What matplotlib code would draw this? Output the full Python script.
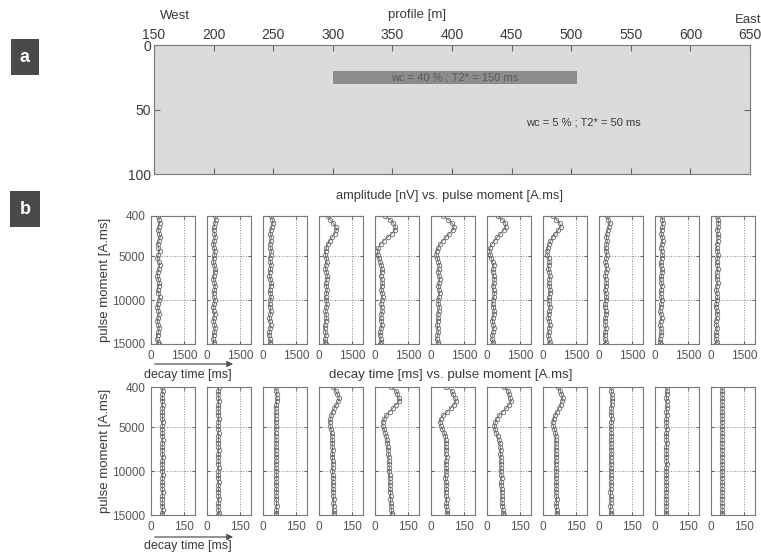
# MRS profile: 2D model (a) and synthetic soundings along the profile (b)

import matplotlib
matplotlib.use('Agg')
import matplotlib.pyplot as plt
from matplotlib.patches import Rectangle, FancyArrowPatch

plt.rcParams['font.family'] = ['Liberation Sans', 'DejaVu Sans']

# MODEL (panel a)
profile_ticks = [150, 200, 250, 300, 350, 400, 450, 500, 550, 600, 650]
depth_ticks = [0, 50, 100]
layer_x = [300, 505]        # profile position of the water-rich layer [m]
layer_depth = [20, 30]      # top / bottom of the layer [m]
layer_label = 'wc = 40 % ; T2* = 150 ms'
host_label = 'wc = 5 % ; T2* = 50 ms'

# SOUNDINGS (panel b)
pulse_moment = [400, 800, 1200, 1600, 2000, 2400, 2800, 3200, 3600, 4000,
                4400, 4800, 5200, 5600, 6000, 6400, 6800, 7200, 7600, 8000,
                8400, 8800, 9200, 9600, 10000, 10400, 10800, 11200, 11600, 12000,
                12400, 12800, 13200, 13600, 14000, 14400, 14800, 15000]

amplitude = [
    [330, 360, 400, 350, 310, 380, 420, 360, 300, 340, 390, 330, 290, 350, 400, 360, 310, 280, 330,
     380, 350, 300, 340, 390, 360, 310, 290, 340, 370, 320, 280, 330, 380, 340, 300, 260, 310, 350],
    [360, 400, 370, 320, 300, 340, 380, 330, 290, 310, 360, 340, 300, 280, 330, 370, 350, 310, 290,
     340, 380, 340, 300, 320, 360, 330, 280, 300, 350, 320, 290, 330, 370, 340, 300, 270, 320, 300],
    [350, 420, 450, 400, 360, 330, 380, 350, 310, 340, 380, 350, 300, 330, 370, 340, 310, 290, 340,
     380, 360, 310, 330, 370, 340, 300, 320, 360, 330, 290, 310, 350, 330, 290, 270, 310, 340, 300],
    [410, 500, 640, 760, 790, 720, 600, 480, 400, 330, 300, 280, 330, 360, 320, 290, 340, 380, 350,
     310, 330, 370, 340, 300, 320, 360, 330, 290, 310, 340, 300, 270, 250, 290, 320, 280, 250, 300],
    [450, 680, 830, 920, 900, 760, 580, 400, 250, 150, 110, 130, 170, 230, 280, 320, 300, 260, 300,
     340, 310, 280, 320, 350, 310, 270, 300, 330, 290, 260, 280, 310, 280, 240, 220, 260, 280, 240],
    [560, 790, 950, 1060, 980, 840, 680, 540, 410, 320, 260, 230, 280, 330, 380, 350, 320, 360, 400,
     370, 330, 360, 400, 360, 320, 340, 380, 350, 310, 330, 300, 270, 300, 330, 290, 260, 300, 320],
    [480, 680, 830, 860, 760, 610, 470, 350, 230, 140, 110, 150, 200, 250, 300, 280, 260, 300, 340,
     310, 270, 300, 340, 310, 280, 250, 290, 330, 300, 260, 240, 280, 310, 270, 240, 220, 260, 280],
    [470, 600, 760, 820, 700, 560, 440, 340, 270, 210, 170, 200, 250, 290, 270, 240, 280, 320, 290,
     260, 290, 330, 300, 270, 250, 290, 320, 290, 260, 240, 280, 310, 280, 250, 230, 270, 300, 260],
    [360, 420, 480, 450, 400, 360, 330, 380, 340, 300, 320, 360, 330, 290, 310, 350, 320, 280, 300,
     340, 310, 270, 300, 340, 310, 280, 260, 300, 330, 290, 260, 290, 320, 280, 250, 270, 300, 260],
    [300, 330, 360, 340, 310, 280, 320, 350, 310, 270, 300, 340, 310, 270, 250, 300, 330, 290, 260,
     290, 320, 280, 250, 280, 310, 290, 250, 230, 270, 300, 260, 230, 260, 290, 250, 220, 240, 260],
    [290, 320, 340, 310, 280, 300, 330, 300, 270, 250, 290, 320, 290, 260, 280, 310, 280, 250, 270,
     300, 270, 240, 260, 290, 270, 240, 220, 260, 290, 250, 220, 240, 270, 240, 210, 230, 250, 220],
]

decay_time = [
    [52, 53, 52, 51, 52, 53, 52, 52, 51, 52, 53, 52, 51, 52, 52, 53, 52, 51, 52,
     52, 53, 52, 51, 52, 52, 53, 52, 52, 51, 52, 53, 52, 51, 52, 52, 53, 52, 51],
    [53, 52, 51, 52, 53, 52, 51, 52, 52, 53, 52, 51, 52, 53, 52, 52, 51, 52, 53,
     52, 51, 52, 52, 53, 52, 51, 52, 53, 52, 52, 51, 52, 53, 52, 51, 52, 53, 52],
    [58, 60, 62, 63, 62, 60, 59, 58, 58, 57, 58, 59, 58, 57, 58, 59, 60, 59, 58,
     59, 60, 59, 58, 59, 60, 61, 60, 59, 60, 61, 60, 59, 60, 61, 62, 61, 60, 61],
    [65, 75, 82, 92, 88, 78, 70, 62, 56, 52, 49, 50, 54, 57, 59, 60, 61, 60, 62,
     61, 60, 62, 63, 62, 61, 63, 64, 63, 62, 64, 65, 64, 66, 65, 66, 67, 66, 68],
    [72, 95, 100, 108, 110, 96, 82, 66, 52, 42, 36, 35, 40, 46, 50, 54, 56, 58, 60,
     61, 63, 62, 64, 65, 64, 66, 67, 68, 67, 69, 70, 71, 70, 72, 73, 74, 75, 77],
    [70, 95, 98, 108, 114, 104, 90, 74, 56, 45, 40, 44, 52, 60, 65, 66, 68, 67, 69,
     66, 72, 68, 66, 69, 70, 67, 65, 68, 70, 69, 66, 68, 71, 70, 69, 72, 73, 74],
    [76, 96, 98, 104, 110, 100, 88, 72, 56, 44, 38, 34, 36, 42, 48, 54, 58, 60, 62,
     61, 63, 62, 64, 63, 62, 64, 66, 65, 64, 66, 67, 68, 67, 69, 70, 72, 74, 77],
    [66, 78, 84, 90, 88, 80, 72, 64, 56, 48, 44, 46, 52, 56, 58, 57, 59, 58, 57,
     59, 60, 58, 57, 59, 60, 59, 58, 60, 61, 60, 59, 61, 62, 61, 60, 62, 63, 64],
    [55, 56, 58, 59, 58, 57, 56, 55, 56, 57, 56, 55, 54, 55, 56, 55, 54, 55, 56,
     55, 54, 53, 54, 55, 54, 53, 54, 55, 54, 53, 52, 53, 54, 53, 52, 53, 54, 53],
    [53, 54, 53, 52, 53, 54, 53, 52, 53, 52, 51, 52, 53, 52, 51, 52, 53, 52, 51,
     52, 51, 52, 53, 52, 51, 52, 51, 50, 51, 52, 51, 50, 51, 52, 51, 50, 51, 52],
    [50, 51, 50, 51, 50, 51, 50, 51, 50, 51, 50, 51, 50, 51, 50, 51, 50, 51, 50,
     51, 50, 51, 50, 51, 50, 51, 50, 51, 50, 51, 50, 51, 50, 51, 50, 51, 50, 51],
]

pm_ticks = [400, 5000, 10000, 15000]
amp_ticks = [0, 1500]
t2_ticks = [0, 150]

# COLOURS
text_col = '#3a3a3a'
tick_col = '#666666'
spine_col = '#7a7a7a'
mark_col = '#6a6a6a'

W, H = 761, 556
fig = plt.figure(figsize=(W / 100, H / 100), dpi=100)


def box(px_left, px_top, px_w, px_h):
    # CONVERT PIXEL BOX (FROM TOP-LEFT) TO FIGURE FRACTION
    return [px_left / W, 1 - (px_top + px_h) / H, px_w / W, px_h / H]


# ---------------- PANEL A ----------------
ax = fig.add_axes(box(154, 45, 596, 129))
ax.set_facecolor('#dbdbdb')
ax.set_xlim(profile_ticks[0], profile_ticks[-1])
ax.set_ylim(depth_ticks[-1], depth_ticks[0])
ax.xaxis.tick_top()
ax.set_xticks(profile_ticks)
ax.set_yticks(depth_ticks)
ax.tick_params(direction='in', length=4, colors=tick_col, labelcolor=text_col,
               labelsize=10, top=True, bottom=True, left=True, right=True, pad=2)
for s in ax.spines.values():
    s.set_color(spine_col)
    s.set_linewidth(0.8)
ax.add_patch(Rectangle((layer_x[0], layer_depth[0]), layer_x[1] - layer_x[0],
                       layer_depth[1] - layer_depth[0], facecolor='#8c8c8c', edgecolor='none'))
ax.text(sum(layer_x) / 2, sum(layer_depth) / 2, layer_label, ha='center', va='center',
        fontsize=8, color='#5a5a5a')
ax.text(510, 60, host_label, ha='center', va='center', fontsize=8, color=text_col)

fig.text(160 / W, 1 - 16 / H, 'West', ha='left', va='center', fontsize=9.5, color=text_col)
fig.text(417 / W, 1 - 15 / H, 'profile [m]', ha='center', va='center', fontsize=9.5, color=text_col)
fig.text(735 / W, 1 - 20 / H, 'East', ha='left', va='center', fontsize=9.5, color=text_col)

# PANEL LETTERS
for letter, ytop in [('a', 43), ('b', 195)]:
    fig.text(25 / W, 1 - (ytop + 14) / H, letter, ha='center', va='center', fontsize=13,
             fontweight='bold', color='white',
             bbox=dict(boxstyle='square,pad=0.5', facecolor='#4a4a4a', edgecolor='none'))

# ---------------- PANEL B ----------------
rows = [(amplitude, 216, [0, 2000], amp_ticks), (decay_time, 387, [0, 200], t2_ticks)]
for values, top_px, xlim, xticks in rows:
    for i, series in enumerate(values):
        a = fig.add_axes(box(151 + 56 * i, top_px, 44, 128))
        a.plot(series, pulse_moment, '-o', color=mark_col, lw=0.6, ms=3.2,
               mfc='none', mec=mark_col, mew=0.6)
        a.set_xlim(xlim)
        a.set_ylim(pulse_moment[-1], pulse_moment[0])
        a.set_xticks(xticks)
        a.set_yticks(pm_ticks)
        a.grid(True, linestyle=':', color='#888888', linewidth=0.7)
        a.tick_params(direction='in', length=2.5, colors=tick_col, labelcolor='#555555',
                      labelsize=8.5, top=True, right=True, pad=4)
        if i > 0:
            a.tick_params(labelleft=False)
        else:
            a.set_ylabel('pulse moment [A.ms]', fontsize=9.5, color=text_col, labelpad=1)
        for s in a.spines.values():
            s.set_color(spine_col)
            s.set_linewidth(0.8)

fig.text(450 / W, 1 - 196 / H, 'amplitude [nV] vs. pulse moment [A.ms]',
         ha='center', va='center', fontsize=9.3, color=text_col)
fig.text(451 / W, 1 - 375 / H, 'decay time [ms] vs. pulse moment [A.ms]',
         ha='center', va='center', fontsize=9.6, color=text_col)

# AXIS ARROWS BELOW EACH ROW
for arrow_y, label_y in [(364, 375), (537, 546)]:
    fig.add_artist(FancyArrowPatch(
        (152 / W, 1 - arrow_y / H), (236 / W, 1 - arrow_y / H),
        transform=fig.transFigure, arrowstyle='-|>', mutation_scale=9,
        color='#555555', lw=0.9))
    fig.text(188 / W, 1 - label_y / H, 'decay time [ms]', ha='center', va='center',
             fontsize=9, color=text_col)

fig.savefig('out.png', dpi=100)
